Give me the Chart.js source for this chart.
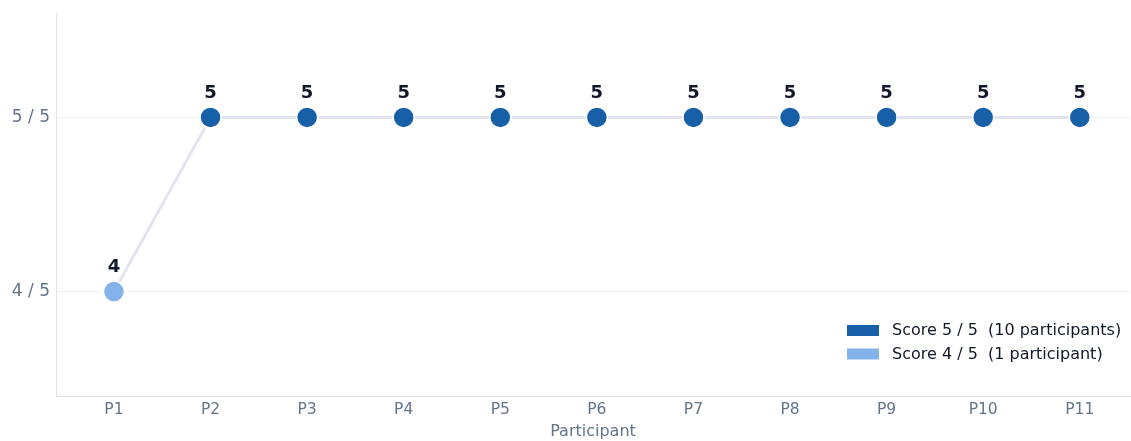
<!DOCTYPE html>
<html>
<head>
<meta charset="utf-8">
<script src="https://cdn.jsdelivr.net/npm/chart.js@4/dist/chart.umd.min.js"></script>
<style>
  html, body { margin: 0; padding: 0; background: #fff; overflow: hidden; }
  /* a little wider than the window: Chart.js keeps ~11px spare on the right for the last x label */
  #wrap { width: 1142px; height: 441px; position: relative; }
  #myChart { display: block; }
</style>
</head>
<body>
<div id="wrap"><canvas id="myChart"></canvas></div>
<script>
// participants and their scores (out of 5)
const participants = ['P1', 'P2', 'P3', 'P4', 'P5', 'P6', 'P7', 'P8', 'P9', 'P10', 'P11'];
const scores = [4, 5, 5, 5, 5, 5, 5, 5, 5, 5, 5];
const yTicks = [4, 5];
const legendItems = [
  { text: 'Score 5 / 5  (10 participants)', score: 5 },
  { text: 'Score 4 / 5  (1 participant)', score: 4 }
];

const COLORS = {
  full: '#1760a7',
  partial: '#84b3eb',
  line: '#e2e5ef',
  grid: '#eef0f5',
  axis: '#dde2ee',
  tick: '#64748b',
  label: '#111827'
};

function scoreColor(s) {
  return s === 5 ? COLORS.full : COLORS.partial;
}

// linear x so P1..P11 sit at 1..11
const points = scores.map((s, i) => ({ x: i + 1, y: s }));

// value labels above each point
const valueLabels = {
  id: 'valueLabels',
  afterDatasetsDraw(chart) {
    const ctx = chart.ctx;
    const meta = chart.getDatasetMeta(0);
    ctx.save();
    ctx.font = 'bold 18px "DejaVu Sans"';
    ctx.fillStyle = COLORS.label;
    ctx.textAlign = 'center';
    ctx.textBaseline = 'middle';
    meta.data.forEach((pt, i) => {
      ctx.fillText(String(scores[i]), pt.x, pt.y - 24);
    });
    ctx.restore();
  }
};

// small legend in the lower right of the plot
const cornerLegend = {
  id: 'cornerLegend',
  afterDraw(chart) {
    const ctx = chart.ctx;
    ctx.save();
    ctx.font = '16px "DejaVu Sans"';
    ctx.textBaseline = 'middle';
    ctx.textAlign = 'left';
    legendItems.forEach((item, i) => {
      const y = 330 + i * 23.5;
      ctx.fillStyle = scoreColor(item.score);
      ctx.fillRect(847, y - 5, 32, 11);
      ctx.fillStyle = COLORS.label;
      ctx.fillText(item.text, 892, y + 1);
    });
    ctx.restore();
  }
};

const config = {
  type: 'line',
  data: {
    datasets: [{
      data: points,
      borderColor: COLORS.line,
      borderWidth: 3,
      pointRadius: 10.5,
      pointHoverRadius: 10.5,
      pointBackgroundColor: scores.map(scoreColor),
      pointBorderColor: '#ffffff',
      pointBorderWidth: 1.5,
      tension: 0
    }]
  },
  options: {
    responsive: true,
    maintainAspectRatio: false,
    animation: false,
    layout: { padding: { top: 13, right: 0, left: 0, bottom: 0 } },
    plugins: {
      legend: { display: false },
      tooltip: { enabled: false }
    },
    scales: {
      x: {
        type: 'linear',
        min: 0.4,
        max: 11.52,
        afterBuildTicks(scale) {
          scale.ticks = participants.map((p, i) => ({ value: i + 1 }));
        },
        afterFit(scale) {
          scale.height = 45;
        },
        grid: { display: false, drawTicks: false },
        border: { color: COLORS.axis, width: 1 },
        ticks: {
          color: COLORS.tick,
          font: { family: 'DejaVu Sans', size: 15.5 },
          padding: 5,
          autoSkip: false,
          maxRotation: 0,
          callback: v => participants[v - 1]
        },
        title: {
          display: true,
          text: 'Participant',
          color: COLORS.tick,
          font: { family: 'DejaVu Sans', size: 16 },
          padding: { top: 1, bottom: 0 }
        }
      },
      y: {
        min: 3.4,
        max: 5.6,
        afterBuildTicks(scale) {
          scale.ticks = yTicks.map(v => ({ value: v }));
        },
        afterFit(scale) {
          scale.width = 56;
          scale.paddingTop = 0;
          scale.paddingBottom = 0;
        },
        grid: { color: COLORS.grid, lineWidth: 1, drawTicks: false },
        border: { color: COLORS.axis, width: 1 },
        ticks: {
          color: COLORS.tick,
          font: { family: 'DejaVu Sans', size: 17 },
          padding: 6,
          callback: v => v + ' / 5'
        }
      }
    }
  },
  plugins: [valueLabels, cornerLegend]
};

new Chart(document.getElementById('myChart'), config);
</script>
</body>
</html>
